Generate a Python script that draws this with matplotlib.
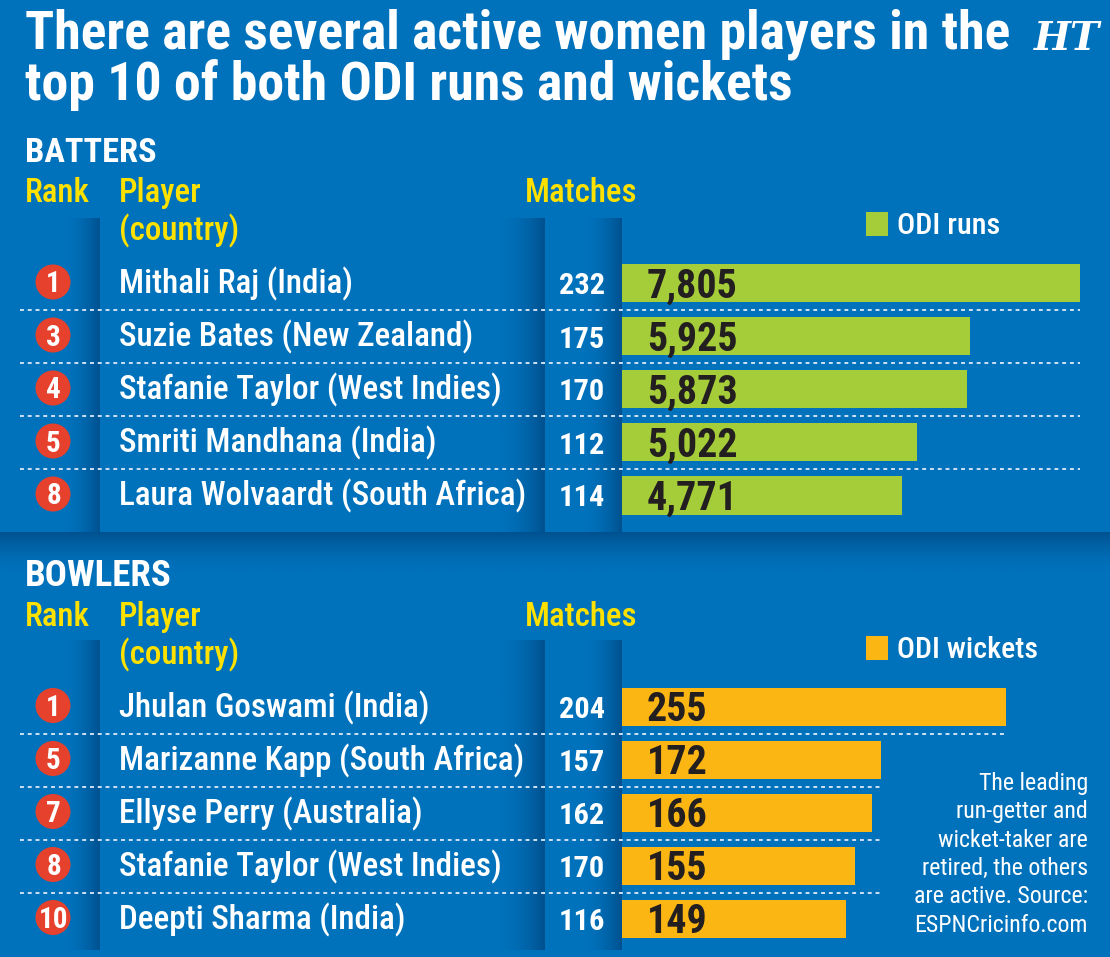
import os
import numpy as np
import matplotlib
matplotlib.use('Agg')
import matplotlib.pyplot as plt
from matplotlib import font_manager
from matplotlib.font_manager import FontProperties
from matplotlib.colors import LinearSegmentedColormap
from matplotlib.patches import Circle, Rectangle

# ---- data ----
title_lines = ['There are several active women players in the',
               'top 10 of both ODI runs and wickets']

bat_ranks = [1, 3, 4, 5, 8]
bat_players = ['Mithali Raj (India)', 'Suzie Bates (New Zealand)',
               'Stafanie Taylor (West Indies)', 'Smriti Mandhana (India)',
               'Laura Wolvaardt (South Africa)']
bat_matches = [232, 175, 170, 112, 114]
bat_runs = [7805, 5925, 5873, 5022, 4771]

bowl_ranks = [1, 5, 7, 8, 10]
bowl_players = ['Jhulan Goswami (India)', 'Marizanne Kapp (South Africa)',
                'Ellyse Perry (Australia)', 'Stafanie Taylor (West Indies)',
                'Deepti Sharma (India)']
bowl_matches = [204, 157, 162, 170, 116]
bowl_wickets = [255, 172, 166, 155, 149]

note_lines = ['The leading', 'run-getter and', 'wicket-taker are',
              'retired, the others', 'are active. Source:', 'ESPNCricinfo.com']

# ---- colours ----
BLUE = '#0071bb'
DARK = '#00518f'
GREEN = '#a5cd39'
ORANGE = '#fcb614'
YELLOW = '#ffe100'
RED = '#e5412d'
INK = '#231f20'
DOT = '#cfe3f3'

# ---- fonts: look for a condensed family, else fall back ----
def norm(s):
    return s.lower().replace('-', '').replace('_', '').replace(' ', '')

font_files = {norm(os.path.basename(f.fname)): f.fname
              for f in font_manager.fontManager.ttflist}

bold_names = ['notosanscondensedbold.ttf', 'robotocondensedbold.ttf',
              'opensanscondensedbold.ttf', 'opensanscondbold.ttf',
              'liberationsansnarrowbold.ttf', 'dejavusanscondensedbold.ttf']
heavy_names = ['notosanscondensedextrabold.ttf', 'robotocondensedextrabold.ttf',
               'opensanscondensedextrabold.ttf', 'robotocondensedblack.ttf'] + bold_names
semi_names = ['notosanscondensedsemibold.ttf', 'robotocondensedsemibold.ttf',
              'opensanscondensedsemibold.ttf', 'notosanscondensedmedium.ttf',
              'robotocondensedmedium.ttf'] + bold_names
reg_names = ['notosanscondensed.ttf', 'notosanscondensedregular.ttf',
             'robotocondensedregular.ttf', 'robotocondensed.ttf',
             'opensanscondensedregular.ttf', 'opensanscondensed.ttf',
             'liberationsansnarrowregular.ttf', 'liberationsansnarrow.ttf',
             'dejavusanscondensed.ttf']


def pick(names, weight):
    for n in names:
        if n in font_files:
            return FontProperties(fname=font_files[n])
    return FontProperties(family=['Roboto', 'DejaVu Sans'], weight=weight)


fp_heavy = pick(heavy_names, 'heavy')
fp_bold = pick(bold_names, 'bold')
fp_semi = pick(semi_names, 'semibold')
fp_reg = pick(reg_names, 'normal')

# ---- figure, pixel coordinates ----
W, H = 1110, 957
STEP = 53
fig = plt.figure(figsize=(W / 100, H / 100), dpi=100, facecolor=BLUE)
renderer = fig.canvas.get_renderer()

bg = fig.add_axes([0, 0, 1, 1])
bg.set_zorder(1)
tx = fig.add_axes([0, 0, 1, 1])
tx.set_zorder(3)
for a in (bg, tx):
    a.axis('off')

# panel shadows
shade = LinearSegmentedColormap.from_list('shade', [BLUE, DARK])
ramp = np.linspace(0, 1, 120) ** 1.7


def vstrip(x0, x1, y0, y1):
    bg.imshow(ramp[None, :], extent=[x0, x1, y1, y0], cmap=shade, vmin=0, vmax=1,
              aspect='auto', interpolation='bilinear')


for (y0, y1) in [(218, 532), (640, 950)]:
    vstrip(66, 100, y0, y1)
    vstrip(500, 545, y0, y1)
    vstrip(586, 622, y0, y1)
bg.imshow(ramp[::-1][:, None], extent=[0, W, 572, 532], cmap=shade, vmin=0, vmax=1,
          aspect='auto', interpolation='bilinear')


def fit(t, width, max_size):
    w = t.get_window_extent(renderer).width
    size = min(t.get_fontsize() * width / w, max_size)
    t.set_fontsize(size)
    return size


def cap(size):
    return 0.36 * size * 100 / 72


# title and logo
t = tx.text(25, 48, title_lines[0], color='white', fontproperties=fp_heavy,
            fontsize=30, va='baseline')
tsize = fit(t, 988, 40)
tx.text(25, 100, title_lines[1], color='white', fontproperties=fp_heavy,
        fontsize=tsize, va='baseline')
t = tx.text(1100, 50, 'HT', color='white', family='DejaVu Serif',
            weight='bold', style='italic', fontsize=20, ha='right', va='baseline')
fit(t, 66, 34)


def section(label, label_w, y_head, center0, values, color, legend, legend_w,
            bar_right, sep_right):
    # headers
    t = tx.text(25, y_head, label, color='white', fontproperties=fp_bold,
                fontsize=20, va='baseline')
    fit(t, label_w, 28)
    hy = y_head + 40
    t = tx.text(525, hy, 'Matches', color=YELLOW, fontproperties=fp_semi,
                fontsize=20, va='baseline')
    hs = fit(t, 113, 24)
    tx.text(25, hy, 'Rank', color=YELLOW, fontproperties=fp_semi, fontsize=hs, va='baseline')
    tx.text(119, hy, 'Player', color=YELLOW, fontproperties=fp_semi, fontsize=hs, va='baseline')
    tx.text(119, hy + 38, '(country)', color=YELLOW, fontproperties=fp_semi,
            fontsize=hs, va='baseline')

    # legend
    tx.add_patch(Rectangle((866, hy + 10), 22, 24, color=color, lw=0))
    t = tx.text(897, hy + 32, legend, color='white', fontproperties=fp_semi,
                fontsize=18, va='baseline')
    fit(t, legend_w, 22)

    # bars on their own value axis
    top = center0 - STEP / 2
    bax = fig.add_axes([622 / W, 1 - (top + 5 * STEP) / H,
                        (bar_right - 622) / W, 5 * STEP / H])
    bax.set_zorder(2)
    bax.barh(range(len(values)), values, height=38 / STEP, color=color, lw=0)
    bax.set_xlim(0, max(values))
    bax.set_ylim(len(values) - 0.5, -0.5)
    bax.axis('off')

    # separators
    for i in range(len(values) - 1):
        y = center0 + STEP * (i + 0.5)
        bg.hlines(y, 20, sep_right[i], colors=DOT, linestyles=(0, (2, 2)), lw=1.4)

    return bax


bat_ax = section('BATTERS', 132, 162, 283.5, bat_runs, GREEN, 'ODI runs', 103,
                 1080, [1080, 1080, 1080, 1080])
bowl_ax = section('BOWLERS', 147, 586, 707, bowl_wickets, ORANGE, 'ODI wickets', 141,
                  1006, [1006, 883, 883, 883])

# row text sizes fitted once
probe = tx.text(0, -100, bat_players[4], fontproperties=fp_semi, fontsize=20)
name_size = fit(probe, 408, 25)
probe.remove()
probe = tx.text(0, -100, '204', fontproperties=fp_bold, fontsize=20)
match_size = fit(probe, 46, 24)
probe.remove()
probe = tx.text(0, -100, '7,805', fontproperties=fp_heavy, fontsize=20)
value_size = fit(probe, 91, 31)
probe.remove()
probe = tx.text(0, -100, '10', fontproperties=fp_bold, fontsize=20)
rank_size = fit(probe, 30, 21)
probe.remove()

for center0, ranks, players, matches, values in [
        (283.5, bat_ranks, bat_players, bat_matches, bat_runs),
        (707, bowl_ranks, bowl_players, bowl_matches, bowl_wickets)]:
    for i in range(len(values)):
        cy = center0 + STEP * i
        tx.add_patch(Circle((53, cy - 1.5), 17.5, color=RED, lw=0))
        tx.text(53.5, cy - 1.5 + cap(rank_size), str(ranks[i]), color='white',
                fontproperties=fp_bold, fontsize=rank_size, ha='center', va='baseline')
        tx.text(119, cy + 10, players[i], color='white', fontproperties=fp_semi,
                fontsize=name_size, va='baseline')
        tx.text(605, cy + 11, str(matches[i]), color='white', fontproperties=fp_bold,
                fontsize=match_size, ha='right', va='baseline')
        tx.text(647, cy + cap(value_size), f'{values[i]:,}', color=INK,
                fontproperties=fp_heavy, fontsize=value_size, va='baseline')

# footnote
probe = tx.text(0, -100, note_lines[3], fontproperties=fp_reg, fontsize=16)
note_size = fit(probe, 168, 20)
probe.remove()
for i, line in enumerate(note_lines):
    tx.text(1088, 790 + 28.3 * i, line, color='white', fontproperties=fp_reg,
            fontsize=note_size, ha='right', va='baseline')

for a in (bg, tx):
    a.set_xlim(0, W)
    a.set_ylim(H, 0)

fig.savefig('out.png', dpi=100, facecolor=BLUE)
